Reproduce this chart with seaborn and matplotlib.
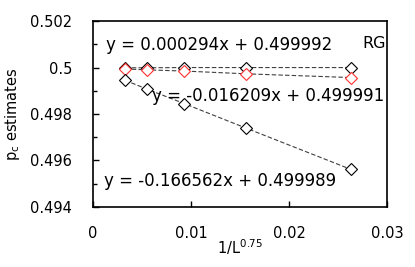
import pandas as pd
import seaborn as sns
import matplotlib.pyplot as plt
from matplotlib.ticker import MultipleLocator

# 1/L^0.75 for L = 2048, 1024, 512, 256, 128
x_vals = [0.003285, 0.005524, 0.009291, 0.015625, 0.026278]
pc_top = [0.49999, 0.49999, 0.50000, 0.50000, 0.50000]
pc_red = [0.49994, 0.49990, 0.49985, 0.49973, 0.49957]
pc_low = [0.49945, 0.49907, 0.49845, 0.49739, 0.49562]

fit_top = "y = 0.000294x + 0.499992"
fit_red = "y = -0.016209x + 0.499991"
fit_low = "y = -0.166562x + 0.499989"

sns.set_theme(style="white")
plt.rcParams['font.family'] = ['DejaVu Sans']
plt.rcParams['text.color'] = 'black'
plt.rcParams['axes.labelcolor'] = 'black'

fig = plt.figure(figsize=(4.15, 2.67), dpi=100)
ax = fig.add_axes([0.224, 0.225, 0.709, 0.696])

series = [(pc_top, 'black'), (pc_red, '#ff3030'), (pc_low, 'black')]
for vals, mec in series:
    df = pd.DataFrame({'x': x_vals, 'y': vals})
    sns.lineplot(data=df, x='x', y='y', ax=ax, color='#404040', linestyle=(0, (4, 2)),
                 linewidth=0.8, marker='D', markersize=6, markerfacecolor='white',
                 markeredgecolor=mec, markeredgewidth=0.8)

ax.set_xlim(0, 0.03)
ax.set_ylim(0.494, 0.502)
ax.yaxis.set_minor_locator(MultipleLocator(0.001))
ax.set_xticks([0, 0.01, 0.02, 0.03])
ax.set_xticklabels(['0', '0.01', '0.02', '0.03'])
ax.set_yticks([0.494, 0.496, 0.498, 0.5, 0.502])
ax.set_yticklabels(['0.494', '0.496', '0.498', '0.5', '0.502'])
ax.tick_params(axis='both', which='both', direction='in', labelsize=10.5, color='black',
               labelcolor='black')
ax.tick_params(axis='x', which='major', length=4, width=1, pad=14, bottom=True)
ax.tick_params(axis='y', which='major', length=4, width=1, pad=15, left=True)
ax.tick_params(axis='y', which='minor', length=3, width=1, left=True)
for s in ax.spines.values():
    s.set_color('black')
    s.set_linewidth(1.2)

ax.set_xlabel(r'1/L$^{0.75}$', fontsize=10.5, labelpad=-3)
ax.set_ylabel(r'p$_{\mathregular{c}}$ estimates', fontsize=10.5, labelpad=6)

ax.text(0.0013, 0.50097, fit_top, fontsize=12, va='center', ha='left')
ax.text(0.0275, 0.50105, 'RG', fontsize=11.5, va='center', ha='left')
ax.text(0.0060, 0.49877, fit_red, fontsize=12, va='center', ha='left')
ax.text(0.0011, 0.49512, fit_low, fontsize=12, va='center', ha='left')

fig.savefig('out.png', dpi=100)
